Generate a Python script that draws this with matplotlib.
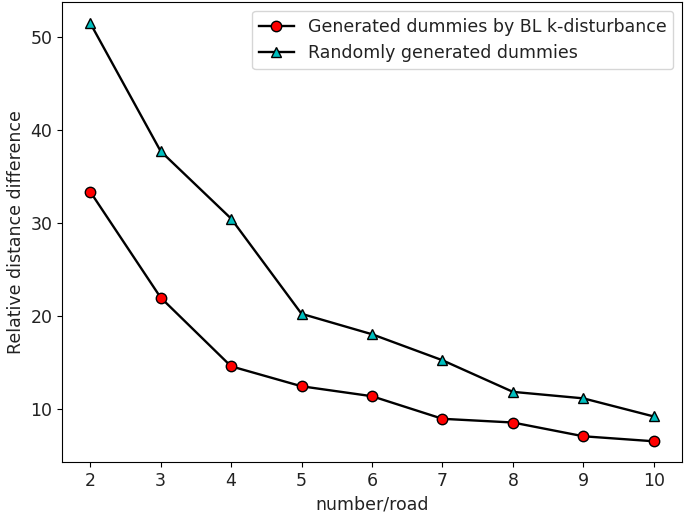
import matplotlib
matplotlib.use('Agg')
import matplotlib.pyplot as plt

# Data
roads = [2, 3, 4, 5, 6, 7, 8, 9, 10]
bl_disturbance = [33.35, 21.95, 14.55, 12.4, 11.33, 8.9, 8.5, 7.02, 6.48]
random_dummies = [51.5, 37.7, 30.45, 20.2, 18.0, 15.2, 11.8, 11.1, 9.15]

plt.rcParams['font.size'] = 12.5
plt.rcParams['text.color'] = '#222222'
plt.rcParams['xtick.labelcolor'] = '#222222'
plt.rcParams['ytick.labelcolor'] = '#222222'
plt.rcParams['axes.labelcolor'] = '#222222'

fig, ax = plt.subplots(figsize=(6.85, 5.17), dpi=100)
fig.subplots_adjust(left=0.0905, right=0.9956, top=0.996, bottom=0.106)

ax.plot(roads, bl_disturbance, color='black', marker='o', markerfacecolor='red',
        markeredgecolor='black', markersize=7.5, linewidth=1.7,
        label='Generated dummies by BL k-disturbance')
ax.plot(roads, random_dummies, color='black', marker='^', markerfacecolor='c',
        markeredgecolor='black', markersize=7.5, linewidth=1.7,
        label='Randomly generated dummies')

ax.set_xlabel('number/road')
ax.set_ylabel('Relative distance difference')
ax.set_xticks(roads)
ax.legend(loc='upper right')

fig.savefig('out.png', dpi=100)
